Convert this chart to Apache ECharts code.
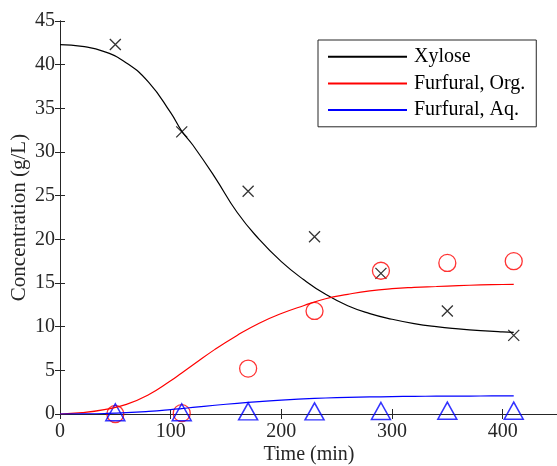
<!DOCTYPE html>
<html>
<head>
<meta charset="utf-8">
<script src="https://cdn.jsdelivr.net/npm/echarts@6/dist/echarts.min.js"></script>
<style>
    html, body { margin: 0; padding: 0; background: #fff; }
    #chart { width: 557px; height: 466px; }
</style>
</head>
<body>
<div id="chart"></div>
<script>
// model curves (time in min)
const curveTime = [0, 20, 40, 60, 80, 100, 110, 120, 140, 160, 180, 200, 220, 240, 260, 280, 300, 320, 340, 360, 380, 400, 410];
const xyloseFit = [42.3, 42.1, 41.5, 40.2, 38.0, 34.5, 32.4, 30.8, 27.1, 23.1, 20.0, 17.45, 15.4, 13.7, 12.4, 11.5, 10.85, 10.35, 10.0, 9.75, 9.55, 9.4, 9.35];
const orgFit = [0, 0.15, 0.5, 1.1, 2.2, 3.8, 4.7, 5.6, 7.4, 9.0, 10.4, 11.5, 12.4, 13.2, 13.7, 14.1, 14.35, 14.5, 14.6, 14.7, 14.78, 14.83, 14.85];
const aqFit = [0, 0.02, 0.06, 0.15, 0.3, 0.5, 0.62, 0.75, 1.0, 1.22, 1.42, 1.6, 1.73, 1.83, 1.9, 1.95, 1.99, 2.02, 2.04, 2.05, 2.06, 2.07, 2.07];

// measured points
const sampleTime = [50, 110, 170, 230, 290, 350, 410];
const xyloseData = [42.3, 32.3, 25.5, 20.3, 16.1, 11.8, 9.0];
const orgData = [0, 0.1, 5.2, 11.8, 16.4, 17.3, 17.5];
const aqData = [0.2, 0.2, 0.3, 0.3, 0.35, 0.38, 0.38];

const seriesNames = ['Xylose', 'Furfural, Org.', 'Furfural, Aq.'];
const xTicks = [0, 100, 200, 300, 400];

const axisColor = '#262626';
const font = 'Liberation Serif';

const pair = (xs, ys) => xs.map((x, i) => [x, ys[i]]);

const chart = echarts.init(document.getElementById('chart'));

const baseX = {
    type: 'value',
    min: 0,
    max: 450,
    interval: 100,
    axisLine: { lineStyle: { color: axisColor, width: 1 } },
    axisTick: { inside: true, length: 5, lineStyle: { color: axisColor } },
    splitLine: { show: false }
};
const baseY = {
    type: 'value',
    min: 0,
    max: 45,
    interval: 5,
    axisLine: { lineStyle: { color: axisColor, width: 1 } },
    axisTick: { inside: true, length: 5, lineStyle: { color: axisColor } },
    splitLine: { show: false }
};

chart.setOption({
    animation: false,
    grid: { left: 60, top: 21, width: 498, height: 393, containLabel: false, outerBoundsMode: 'none' },
    legend: {
        orient: 'vertical',
        left: 318,
        top: 40,
        data: seriesNames,
        itemWidth: 79,
        itemHeight: 20,
        itemGap: 6.7,
        padding: [6.7, 11, 6.7, 9],
        borderColor: axisColor,
        borderWidth: 1,
        backgroundColor: '#fff',
        itemStyle: { opacity: 0 },
        textStyle: { fontFamily: font, fontSize: 20, color: '#000', padding: [0, 0, 0, 2] }
    },
    xAxis: [
        Object.assign({}, baseX, {
            position: 'bottom',
            name: 'Time (min)',
            nameLocation: 'middle',
            nameGap: 31,
            nameMoveOverlap: false,
            nameTextStyle: { fontFamily: font, fontSize: 20, color: axisColor },
            axisLabel: {
                color: axisColor, fontFamily: font, fontSize: 20, margin: 8,
                showMaxLabel: false,
                formatter: v => xTicks.includes(v) ? String(v) : ''
            }
        }),
        Object.assign({}, baseX, { position: 'top', axisLabel: { show: false } })
    ],
    yAxis: [
        Object.assign({}, baseY, {
            position: 'left',
            name: 'Concentration (g/L)',
            nameLocation: 'middle',
            nameGap: 30,
            nameMoveOverlap: false,
            nameTextStyle: { fontFamily: font, fontSize: 21, color: axisColor },
            axisLabel: { color: axisColor, fontFamily: font, fontSize: 20, margin: 5 }
        }),
        Object.assign({}, baseY, { position: 'right', axisLabel: { show: false } })
    ],
    series: [
        {
            name: seriesNames[0], type: 'line', smooth: true, symbol: 'none',
            lineStyle: { color: '#000', width: 1.2 }, itemStyle: { color: '#000' },
            data: pair(curveTime, xyloseFit)
        },
        {
            name: seriesNames[1], type: 'line', smooth: true, symbol: 'none',
            lineStyle: { color: '#ff0000', width: 1.2 }, itemStyle: { color: '#ff0000' },
            data: pair(curveTime, orgFit)
        },
        {
            name: seriesNames[2], type: 'line', smooth: true, symbol: 'none',
            lineStyle: { color: '#0000ff', width: 1.2 }, itemStyle: { color: '#0000ff' },
            data: pair(curveTime, aqFit)
        },
        {
            name: 'xylose-pts', type: 'scatter',
            symbol: 'path://M0,0L10,10M10,0L0,10', symbolSize: 11,
            itemStyle: { color: 'transparent', borderColor: '#000', borderWidth: 1.3 },
            data: pair(sampleTime, xyloseData)
        },
        {
            name: 'org-pts', type: 'scatter', symbol: 'circle', symbolSize: 17,
            itemStyle: { color: 'transparent', borderColor: '#ff0000', borderWidth: 1.3 },
            data: pair(sampleTime, orgData)
        },
        {
            name: 'aq-pts', type: 'scatter', symbol: 'triangle', symbolSize: [19, 17],
            itemStyle: { color: 'transparent', borderColor: '#0000ff', borderWidth: 1.5 },
            data: pair(sampleTime, aqData)
        }
    ]
});
</script>
</body>
</html>
